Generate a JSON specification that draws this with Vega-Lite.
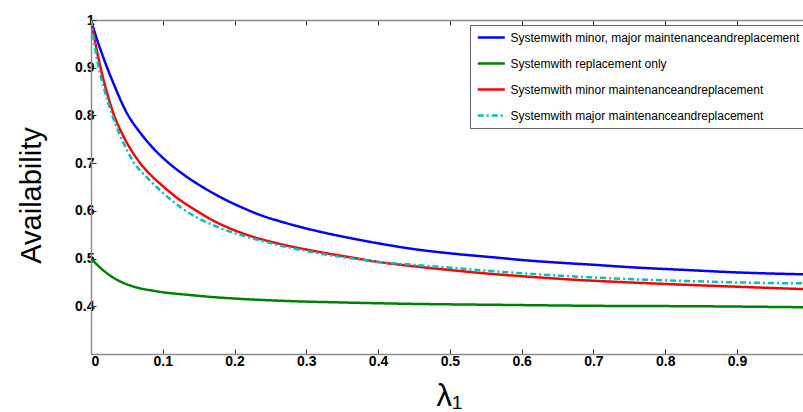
{
  "$schema": "https://vega.github.io/schema/vega-lite/v6.json",
  "width": 712,
  "height": 334,
  "autosize": {"type": "none"},
  "padding": {"left": 91, "top": 20, "right": 0, "bottom": 58},
  "background": "white",
  "config": {"view": {"stroke": null}, "font": "Liberation Sans"},
  "data": {
    "values": [
      {"x": 0, "y": 1.0, "s": "Systemwith minor, major maintenanceandreplacement"},
      {"x": 0.005, "y": 0.975, "s": "Systemwith minor, major maintenanceandreplacement"},
      {"x": 0.01, "y": 0.952, "s": "Systemwith minor, major maintenanceandreplacement"},
      {"x": 0.02, "y": 0.91, "s": "Systemwith minor, major maintenanceandreplacement"},
      {"x": 0.03, "y": 0.872, "s": "Systemwith minor, major maintenanceandreplacement"},
      {"x": 0.05, "y": 0.805, "s": "Systemwith minor, major maintenanceandreplacement"},
      {"x": 0.07, "y": 0.761, "s": "Systemwith minor, major maintenanceandreplacement"},
      {"x": 0.085, "y": 0.734, "s": "Systemwith minor, major maintenanceandreplacement"},
      {"x": 0.107, "y": 0.702, "s": "Systemwith minor, major maintenanceandreplacement"},
      {"x": 0.129, "y": 0.676, "s": "Systemwith minor, major maintenanceandreplacement"},
      {"x": 0.15, "y": 0.655, "s": "Systemwith minor, major maintenanceandreplacement"},
      {"x": 0.175, "y": 0.633, "s": "Systemwith minor, major maintenanceandreplacement"},
      {"x": 0.2075, "y": 0.609, "s": "Systemwith minor, major maintenanceandreplacement"},
      {"x": 0.24, "y": 0.589, "s": "Systemwith minor, major maintenanceandreplacement"},
      {"x": 0.268, "y": 0.576, "s": "Systemwith minor, major maintenanceandreplacement"},
      {"x": 0.314, "y": 0.558, "s": "Systemwith minor, major maintenanceandreplacement"},
      {"x": 0.361, "y": 0.543, "s": "Systemwith minor, major maintenanceandreplacement"},
      {"x": 0.4, "y": 0.532, "s": "Systemwith minor, major maintenanceandreplacement"},
      {"x": 0.449, "y": 0.52, "s": "Systemwith minor, major maintenanceandreplacement"},
      {"x": 0.5, "y": 0.511, "s": "Systemwith minor, major maintenanceandreplacement"},
      {"x": 0.565, "y": 0.502, "s": "Systemwith minor, major maintenanceandreplacement"},
      {"x": 0.6, "y": 0.497, "s": "Systemwith minor, major maintenanceandreplacement"},
      {"x": 0.667, "y": 0.49, "s": "Systemwith minor, major maintenanceandreplacement"},
      {"x": 0.7, "y": 0.487, "s": "Systemwith minor, major maintenanceandreplacement"},
      {"x": 0.75, "y": 0.482, "s": "Systemwith minor, major maintenanceandreplacement"},
      {"x": 0.83, "y": 0.476, "s": "Systemwith minor, major maintenanceandreplacement"},
      {"x": 0.9, "y": 0.471, "s": "Systemwith minor, major maintenanceandreplacement"},
      {"x": 0.992, "y": 0.467, "s": "Systemwith minor, major maintenanceandreplacement"},

      {"x": 0, "y": 0.5, "s": "Systemwith replacement only"},
      {"x": 0.01, "y": 0.485, "s": "Systemwith replacement only"},
      {"x": 0.019, "y": 0.473, "s": "Systemwith replacement only"},
      {"x": 0.03, "y": 0.461, "s": "Systemwith replacement only"},
      {"x": 0.042, "y": 0.451, "s": "Systemwith replacement only"},
      {"x": 0.06, "y": 0.441, "s": "Systemwith replacement only"},
      {"x": 0.089, "y": 0.432, "s": "Systemwith replacement only"},
      {"x": 0.135, "y": 0.424, "s": "Systemwith replacement only"},
      {"x": 0.181, "y": 0.418, "s": "Systemwith replacement only"},
      {"x": 0.228, "y": 0.414, "s": "Systemwith replacement only"},
      {"x": 0.274, "y": 0.411, "s": "Systemwith replacement only"},
      {"x": 0.35, "y": 0.408, "s": "Systemwith replacement only"},
      {"x": 0.45, "y": 0.405, "s": "Systemwith replacement only"},
      {"x": 0.57, "y": 0.403, "s": "Systemwith replacement only"},
      {"x": 0.7, "y": 0.401, "s": "Systemwith replacement only"},
      {"x": 0.85, "y": 0.4, "s": "Systemwith replacement only"},
      {"x": 0.992, "y": 0.398, "s": "Systemwith replacement only"},

      {"x": 0, "y": 1.0, "s": "Systemwith minor maintenanceandreplacement"},
      {"x": 0.005, "y": 0.96, "s": "Systemwith minor maintenanceandreplacement"},
      {"x": 0.0125, "y": 0.905, "s": "Systemwith minor maintenanceandreplacement"},
      {"x": 0.02, "y": 0.86, "s": "Systemwith minor maintenanceandreplacement"},
      {"x": 0.031, "y": 0.805, "s": "Systemwith minor maintenanceandreplacement"},
      {"x": 0.045, "y": 0.757, "s": "Systemwith minor maintenanceandreplacement"},
      {"x": 0.066, "y": 0.705, "s": "Systemwith minor maintenanceandreplacement"},
      {"x": 0.082, "y": 0.677, "s": "Systemwith minor maintenanceandreplacement"},
      {"x": 0.1, "y": 0.652, "s": "Systemwith minor maintenanceandreplacement"},
      {"x": 0.122, "y": 0.625, "s": "Systemwith minor maintenanceandreplacement"},
      {"x": 0.145, "y": 0.602, "s": "Systemwith minor maintenanceandreplacement"},
      {"x": 0.175, "y": 0.576, "s": "Systemwith minor maintenanceandreplacement"},
      {"x": 0.221, "y": 0.548, "s": "Systemwith minor maintenanceandreplacement"},
      {"x": 0.268, "y": 0.529, "s": "Systemwith minor maintenanceandreplacement"},
      {"x": 0.314, "y": 0.515, "s": "Systemwith minor maintenanceandreplacement"},
      {"x": 0.36, "y": 0.503, "s": "Systemwith minor maintenanceandreplacement"},
      {"x": 0.4, "y": 0.493, "s": "Systemwith minor maintenanceandreplacement"},
      {"x": 0.449, "y": 0.484, "s": "Systemwith minor maintenanceandreplacement"},
      {"x": 0.5, "y": 0.476, "s": "Systemwith minor maintenanceandreplacement"},
      {"x": 0.565, "y": 0.467, "s": "Systemwith minor maintenanceandreplacement"},
      {"x": 0.6, "y": 0.463, "s": "Systemwith minor maintenanceandreplacement"},
      {"x": 0.681, "y": 0.455, "s": "Systemwith minor maintenanceandreplacement"},
      {"x": 0.75, "y": 0.45, "s": "Systemwith minor maintenanceandreplacement"},
      {"x": 0.83, "y": 0.445, "s": "Systemwith minor maintenanceandreplacement"},
      {"x": 0.9, "y": 0.441, "s": "Systemwith minor maintenanceandreplacement"},
      {"x": 0.992, "y": 0.436, "s": "Systemwith minor maintenanceandreplacement"},

      {"x": 0, "y": 1.0, "s": "Systemwith major maintenanceandreplacement"},
      {"x": 0.004, "y": 0.957, "s": "Systemwith major maintenanceandreplacement"},
      {"x": 0.01, "y": 0.905, "s": "Systemwith major maintenanceandreplacement"},
      {"x": 0.018, "y": 0.857, "s": "Systemwith major maintenanceandreplacement"},
      {"x": 0.029, "y": 0.803, "s": "Systemwith major maintenanceandreplacement"},
      {"x": 0.042, "y": 0.753, "s": "Systemwith major maintenanceandreplacement"},
      {"x": 0.059, "y": 0.703, "s": "Systemwith major maintenanceandreplacement"},
      {"x": 0.08, "y": 0.667, "s": "Systemwith major maintenanceandreplacement"},
      {"x": 0.1, "y": 0.638, "s": "Systemwith major maintenanceandreplacement"},
      {"x": 0.128, "y": 0.604, "s": "Systemwith major maintenanceandreplacement"},
      {"x": 0.175, "y": 0.567, "s": "Systemwith major maintenanceandreplacement"},
      {"x": 0.221, "y": 0.544, "s": "Systemwith major maintenanceandreplacement"},
      {"x": 0.268, "y": 0.526, "s": "Systemwith major maintenanceandreplacement"},
      {"x": 0.314, "y": 0.512, "s": "Systemwith major maintenanceandreplacement"},
      {"x": 0.36, "y": 0.501, "s": "Systemwith major maintenanceandreplacement"},
      {"x": 0.4, "y": 0.493, "s": "Systemwith major maintenanceandreplacement"},
      {"x": 0.449, "y": 0.487, "s": "Systemwith major maintenanceandreplacement"},
      {"x": 0.5, "y": 0.481, "s": "Systemwith major maintenanceandreplacement"},
      {"x": 0.565, "y": 0.473, "s": "Systemwith major maintenanceandreplacement"},
      {"x": 0.667, "y": 0.463, "s": "Systemwith major maintenanceandreplacement"},
      {"x": 0.75, "y": 0.457, "s": "Systemwith major maintenanceandreplacement"},
      {"x": 0.83, "y": 0.453, "s": "Systemwith major maintenanceandreplacement"},
      {"x": 0.9, "y": 0.45, "s": "Systemwith major maintenanceandreplacement"},
      {"x": 0.992, "y": 0.448, "s": "Systemwith major maintenanceandreplacement"}
    ]
  },
  "layer": [
    {
      "mark": {"type": "line", "strokeWidth": 2.5, "clip": true, "interpolate": "monotone"},
      "encoding": {
        "x": {
          "field": "x", "type": "quantitative",
          "scale": {"domain": [0, 0.992], "nice": false, "zero": false},
          "axis": {
            "orient": "bottom",
            "values": [0, 0.1, 0.2, 0.3, 0.4, 0.5, 0.6, 0.7, 0.8, 0.9],
            "format": ".1~f", "grid": false,
            "tickSize": -5, "tickColor": "#333333", "domainColor": "#8c8c8c", "domainWidth": 1.5,
            "labelFont": "Liberation Sans", "labelFontWeight": "bold", "labelFontSize": 14, "labelColor": "black",
            "labelPadding": 5,
            "title": "λ₁", "titleFont": "Liberation Sans", "titleFontSize": 31, "titleFontWeight": "normal", "titleColor": "black",
            "titleX": 358, "titleY": 51, "titleBaseline": "alphabetic"
          }
        },
        "y": {
          "field": "y", "type": "quantitative",
          "scale": {"domain": [0.3, 1], "nice": false, "zero": false},
          "axis": {
            "values": [0.4, 0.5, 0.6, 0.7, 0.8, 0.9, 1],
            "format": ".1~f", "grid": false,
            "tickSize": -5, "tickColor": "#333333", "domainColor": "#8c8c8c", "domainWidth": 1.5,
            "labelFont": "Liberation Sans", "labelFontWeight": "bold", "labelFontSize": 14, "labelColor": "black",
            "labelPadding": 2,
            "title": "Availability", "titleFont": "Liberation Sans", "titleFontSize": 29, "titleFontWeight": "normal", "titleColor": "black",
            "titleX": -45, "titleY": 175, "titleBaseline": "bottom", "titleAngle": -90
          }
        },
        "color": {
          "field": "s", "type": "nominal",
          "scale": {
            "domain": ["Systemwith minor, major maintenanceandreplacement", "Systemwith replacement only", "Systemwith minor maintenanceandreplacement", "Systemwith major maintenanceandreplacement"],
            "range": ["#0000ff", "#008000", "#ff0000", "#00bfbf"]
          },
          "legend": {
            "orient": "none", "legendX": 379, "legendY": 5, "title": null,
            "symbolType": "M-1,0H4.7", "symbolSize": 90, "symbolStrokeWidth": 2.5,
            "labelFont": "Liberation Sans", "labelFontSize": 12, "labelColor": "black", "labelOffset": 22, "labelLimit": 0,
            "rowPadding": 14, "padding": 6.5,
            "strokeColor": "#666666", "fillColor": "white"
          }
        },
        "strokeDash": {
          "field": "s", "type": "nominal",
          "scale": {
            "domain": ["Systemwith minor, major maintenanceandreplacement", "Systemwith replacement only", "Systemwith minor maintenanceandreplacement", "Systemwith major maintenanceandreplacement"],
            "range": [[1, 0], [1, 0], [1, 0], [6, 3, 2, 3]]
          },
          "legend": {
            "orient": "none", "legendX": 379, "legendY": 5, "title": null,
            "symbolType": "M-1,0H4.7", "symbolSize": 90, "symbolStrokeWidth": 2.5,
            "labelFont": "Liberation Sans", "labelFontSize": 12, "labelColor": "black", "labelOffset": 22, "labelLimit": 0,
            "rowPadding": 14, "padding": 6.5,
            "strokeColor": "#666666", "fillColor": "white"
          }
        }
      }
    },
    {
      "mark": {"type": "line", "opacity": 0},
      "encoding": {
        "x": {
          "field": "x", "type": "quantitative",
          "axis": {
            "orient": "top", "values": [0.1, 0.2, 0.3, 0.4, 0.5, 0.6, 0.7, 0.8, 0.9],
            "labels": false, "title": null, "grid": false,
            "tickSize": -5, "tickColor": "#333333", "domainColor": "#8c8c8c", "domainWidth": 1.5
          }
        },
        "y": {"field": "y", "type": "quantitative"},
        "detail": {"field": "s", "type": "nominal"}
      }
    }
  ],
  "resolve": {"axis": {"x": "independent"}}
}
